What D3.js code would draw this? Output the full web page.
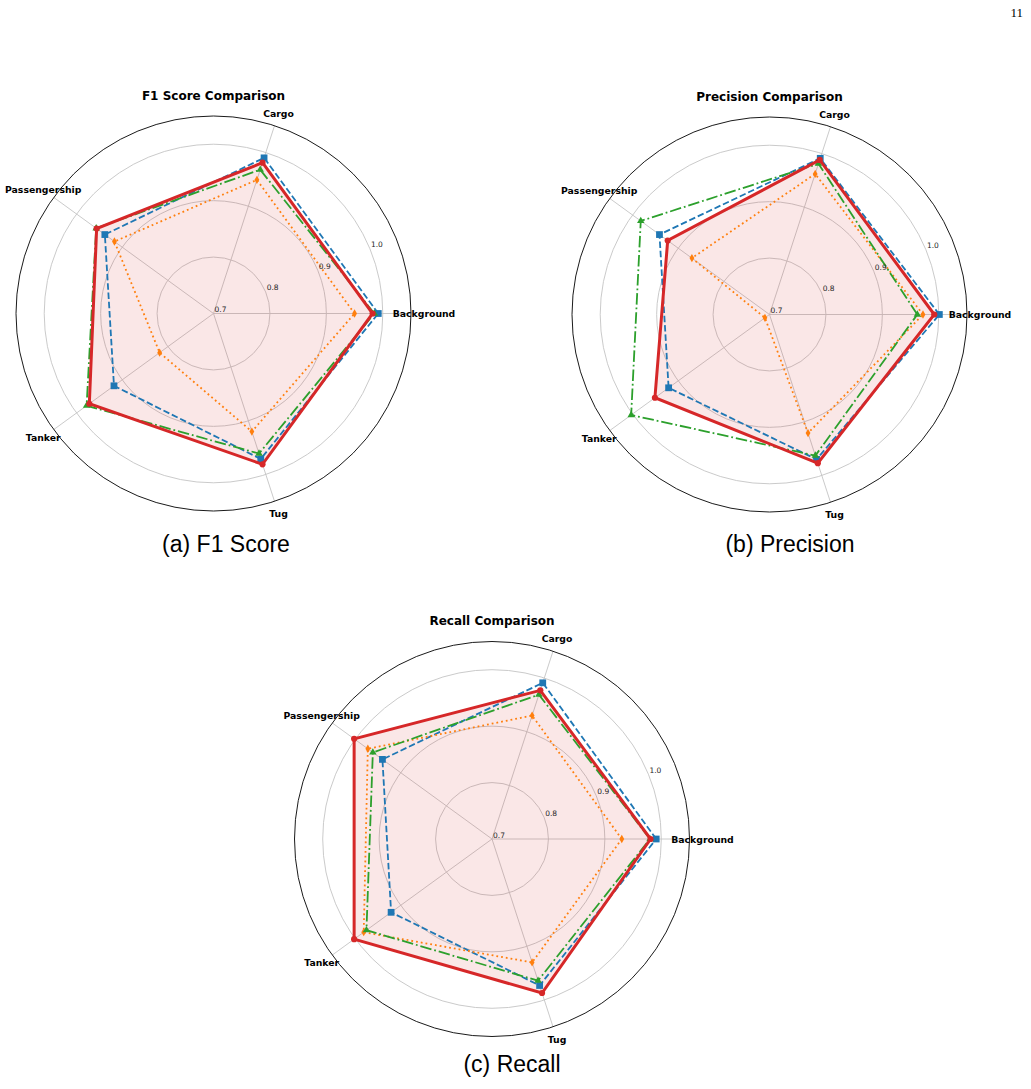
<!DOCTYPE html>
<html lang="en">
<head>
    <meta charset="UTF-8">
    <title>Radar Comparison</title>
    <script src="https://d3js.org/d3.v7.min.js"></script>
    <style>
        body {
            margin: 0;
            background: #fff;
        }
        .axis-label {
            font-family: "DejaVu Sans", sans-serif;
            font-weight: bold;
            font-size: 9.3px;
        }
        .r-label {
            font-family: "DejaVu Sans", sans-serif;
            font-size: 7.5px;
            fill: #262626;
        }
        .title {
            font-family: "DejaVu Sans", sans-serif;
            font-weight: bold;
            font-size: 12px;
        }
        .caption {
            font-family: "Liberation Sans", Arial, sans-serif;
            font-size: 23px;
        }
        .page-num {
            font-family: "Liberation Serif", serif;
            font-size: 13px;
        }
    </style>
</head>
<body>
<svg id="chart"></svg>

<script>
    const categories = ["Background", "Cargo", "Passengership", "Tanker", "Tug"];
    const rTicks = [0.7, 0.8, 0.9, 1.0];

    // series order: blue (dashed), orange (dotted), green (dash-dot), red (solid, filled)
    const f1Values = [
        [0.992, 0.990, 0.938, 0.918, 0.971],
        [0.950, 0.949, 0.917, 0.818, 0.920],
        [0.985, 0.968, 0.957, 0.978, 0.961],
        [0.982, 0.981, 0.956, 0.972, 0.981]
    ];
    const precisionValues = [
        [1.001, 0.991, 0.941, 0.921, 0.970],
        [0.972, 0.962, 0.870, 0.710, 0.921],
        [0.962, 0.981, 0.982, 1.003, 0.963],
        [0.992, 0.988, 0.923, 0.951, 0.977]
    ];
    const recallValues = [
        [0.991, 0.991, 0.940, 0.921, 0.973],
        [0.930, 0.930, 0.972, 0.981, 0.930],
        [0.980, 0.969, 0.961, 0.975, 0.964],
        [0.981, 0.977, 1.002, 1.002, 0.987]
    ];

    const panels = [
        { title: "F1 Score Comparison", caption: "(a) F1 Score", values: f1Values, cx: 213.5, cy: 313.5, capX: 226, capY: 552 },
        { title: "Precision Comparison", caption: "(b) Precision", values: precisionValues, cx: 769.5, cy: 314.5, capX: 790, capY: 552 },
        { title: "Recall Comparison", caption: "(c) Recall", values: recallValues, cx: 492, cy: 839, capX: 512, capY: 1072 }
    ];

    const styles = [
        { color: "#1f77b4", width: 1.8, dash: "6.5,2.8", symbol: d3.symbolSquare, size: 46 },
        { color: "#ff7f0e", width: 1.8, dash: "1.8,3", symbol: d3.symbolDiamond, size: 20 },
        { color: "#2ca02c", width: 1.8, dash: "11.5,2.9,1.8,2.9", symbol: d3.symbolTriangle, size: 24 },
        { color: "#d62728", width: 3, dash: null, symbol: d3.symbolCircle, size: 30 }
    ];

    const W = 1031, H = 1089;
    const R = 197.5;

    const svg = d3.select("#chart")
        .attr("width", W)
        .attr("height", H);

    const rScale = d3.scaleLinear().domain([0.7, 1.05]).range([0, R]);
    // d3 radial angle: 0 at 12 o'clock, clockwise; Background sits at 3 o'clock, then counter-clockwise
    const angle = d3.scaleLinear().domain([0, categories.length]).range([Math.PI / 2, Math.PI / 2 - 2 * Math.PI]);
    const px = (i, v) => rScale(v) * Math.sin(angle(i));
    const py = (i, v) => -rScale(v) * Math.cos(angle(i));

    panels.forEach(p => {
        const g = svg.append("g").attr("transform", `translate(${p.cx},${p.cy})`);

        // grid circles
        g.selectAll(".ring")
            .data(rTicks.filter(t => t > 0.7))
            .enter().append("circle")
            .attr("r", d => rScale(d))
            .attr("fill", "none")
            .attr("stroke", "#c4c4c4")
            .attr("stroke-width", 0.9);

        // spokes
        g.selectAll(".spoke")
            .data(categories)
            .enter().append("line")
            .attr("x1", 0).attr("y1", 0)
            .attr("x2", (d, i) => px(i, 1.05))
            .attr("y2", (d, i) => py(i, 1.05))
            .attr("stroke", "#c4c4c4")
            .attr("stroke-width", 0.9);

        // red fill
        const radial = d3.lineRadial()
            .angle((d, i) => angle(i))
            .radius(d => rScale(d))
            .curve(d3.curveLinearClosed);

        g.append("path")
            .attr("d", radial(p.values[3]))
            .attr("fill", "#d62728")
            .attr("fill-opacity", 0.11)
            .attr("stroke", "none");

        // outer spine
        g.append("circle")
            .attr("r", rScale(1.05))
            .attr("fill", "none")
            .attr("stroke", "#000")
            .attr("stroke-width", 0.9);

        // series
        p.values.forEach((vals, s) => {
            const st = styles[s];
            g.append("path")
                .attr("d", radial(vals))
                .attr("fill", "none")
                .attr("stroke", st.color)
                .attr("stroke-width", st.width)
                .attr("stroke-dasharray", st.dash)
                .attr("stroke-linejoin", "miter");

            g.selectAll(".m" + s)
                .data(vals)
                .enter().append("path")
                .attr("d", d3.symbol().type(st.symbol).size(st.size))
                .attr("transform", (d, i) => `translate(${px(i, d)},${py(i, d)})`)
                .attr("fill", st.color);
        });

        // radial tick labels at 22.5 degrees
        const a = 22.5 * Math.PI / 180;
        g.selectAll(".r-label")
            .data(rTicks)
            .enter().append("text")
            .attr("class", "r-label")
            .attr("x", d => rScale(d) * Math.cos(a) + 1)
            .attr("y", d => -rScale(d) * Math.sin(a) - 1.5)
            .text(d => d.toFixed(1));

        // category labels
        g.selectAll(".axis-label")
            .data(categories)
            .enter().append("text")
            .attr("class", "axis-label")
            .attr("x", (d, i) => (R + 13) * Math.sin(angle(i)))
            .attr("y", (d, i) => -(R + 13) * Math.cos(angle(i)))
            .attr("text-anchor", "middle")
            .attr("dominant-baseline", "central")
            .text(d => d);

        svg.append("text")
            .attr("class", "title")
            .attr("x", p.cx)
            .attr("y", p.cy - 214)
            .attr("text-anchor", "middle")
            .text(p.title);

        svg.append("text")
            .attr("class", "caption")
            .attr("x", p.capX)
            .attr("y", p.capY)
            .attr("text-anchor", "middle")
            .text(p.caption);
    });

    svg.append("text")
        .attr("class", "page-num")
        .attr("x", 1023)
        .attr("y", 16.5)
        .attr("text-anchor", "end")
        .text("11");
</script>
</body>
</html>
